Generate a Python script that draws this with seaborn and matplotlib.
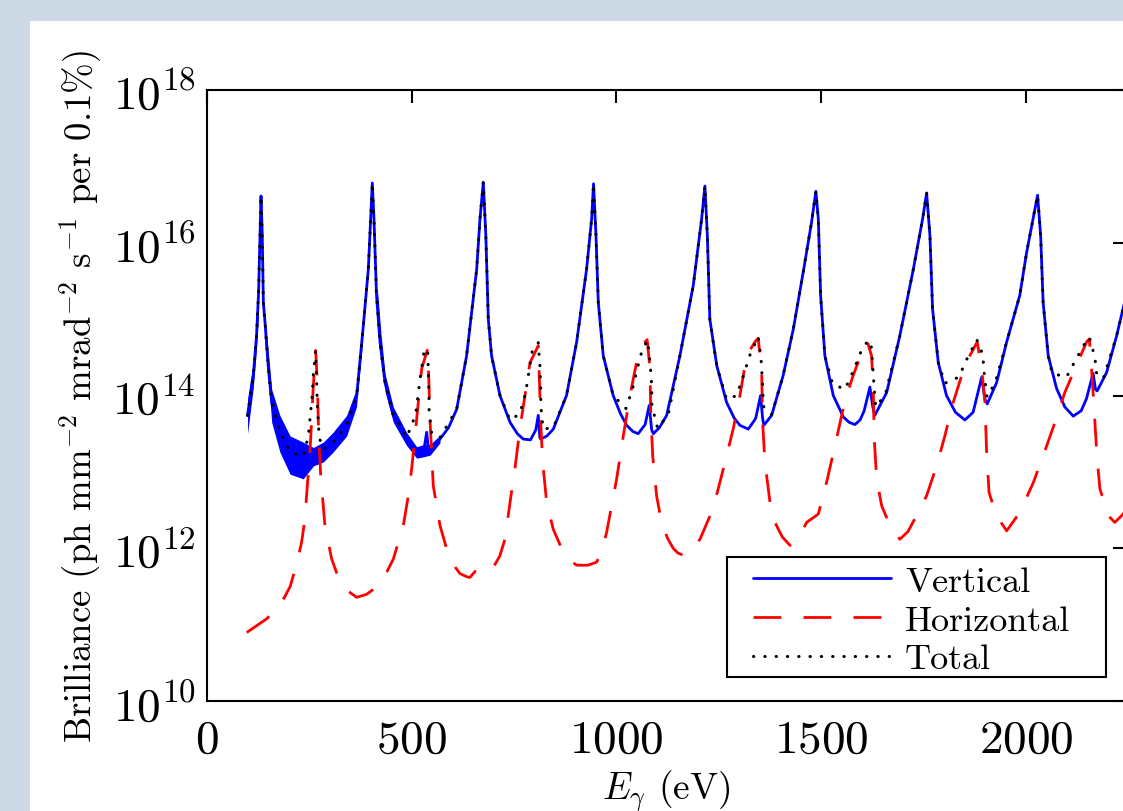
import numpy as np
import matplotlib
matplotlib.use("Agg")
import matplotlib.pyplot as plt
import seaborn as sns
from matplotlib.patches import Rectangle
from matplotlib.ticker import FixedLocator, NullLocator, LogFormatterMathtext

# ---------------- data ----------------
# photon energy (eV) and log10 of brilliance
vertical_E = [99, 113, 121, 126, 129.4, 131.9, 135, 137.6, 143, 150, 158, 178, 203, 235, 255, 263, 268,
              284, 308.5, 341, 365.6, 381.7, 394, 399.7, 403.7, 407.8, 414, 422.5, 434.7, 455, 487.6, 512,
              530, 536.5, 541, 544.6, 569, 590, 609.8, 634, 658.6, 666.7, 674.8, 681, 687, 695, 715.5, 740,
              758, 772.4, 790, 803, 809, 813, 815, 830, 845.7, 878, 902.8, 927, 939.4, 944, 950, 955.6, 967.8,
              992, 1010, 1025, 1040, 1053, 1070, 1080, 1086, 1090, 1105, 1122.6, 1155, 1187.6, 1208, 1216,
              1222, 1228, 1245, 1269, 1288, 1301.6, 1322, 1340, 1352, 1357, 1360, 1379, 1407, 1432, 1456,
              1476.6, 1487, 1493, 1498.6, 1509, 1529.5, 1554, 1568, 1582.4, 1595, 1605, 1619, 1626, 1631,
              1660, 1692, 1725, 1747.7, 1757.5, 1765.6, 1772, 1786, 1806, 1828, 1851, 1871, 1892, 1900,
              1905.6, 1928.5, 1953, 1985, 2001.7, 2028.5, 2036, 2042, 2054.5, 2075, 2095, 2115.6, 2135,
              2148, 2164, 2170, 2174, 2197, 2221.5, 2240]
vertical_log10 = [13.74, 14.26, 14.78, 15.35, 16.09, 16.61, 16.09, 15.22, 14.87, 14.35, 13.91, 13.52, 13.26,
                  13.17, 13.18, 13.28, 13.20, 13.26, 13.39, 13.61, 14.00, 14.91, 15.65, 16.31, 16.78, 16.31,
                  15.31, 14.70, 14.17, 13.74, 13.43, 13.26, 13.30, 13.52, 13.28, 13.30, 13.43, 13.58, 13.82,
                  14.52, 15.65, 16.31, 16.79, 16.09, 15.00, 14.52, 14.00, 13.65, 13.50, 13.43, 13.42, 13.55,
                  13.74, 13.45, 13.43, 13.47, 13.56, 14.00, 14.70, 15.65, 16.31, 16.77, 16.09, 15.22, 14.52,
                  14.00, 13.76, 13.61, 13.53, 13.50, 13.62, 13.87, 13.55, 13.50, 13.58, 13.74, 14.52, 15.44,
                  16.31, 16.74, 16.09, 15.00, 14.39, 13.91, 13.70, 13.61, 13.56, 13.70, 14.00, 13.70, 13.61,
                  13.74, 14.26, 14.87, 15.61, 16.27, 16.67, 16.31, 15.31, 14.52, 14.00, 13.72, 13.65, 13.62,
                  13.68, 13.80, 14.11, 13.85, 13.74, 14.04, 14.78, 15.65, 16.31, 16.65, 16.09, 15.13, 14.43,
                  14.00, 13.78, 13.68, 13.78, 14.24, 13.95, 13.89, 14.17, 14.70, 15.31, 15.87, 16.62, 16.09,
                  15.22, 14.52, 14.09, 13.85, 13.73, 13.80, 13.96, 14.29, 14.08, 14.06, 14.30, 14.78, 15.20]

# spread of the rapidly oscillating vertical signal at low energy (three stretches)
band_E = [[99, 106, 113, 121, 125],
          [140, 150, 158, 178, 203, 235, 260, 284, 308, 341, 365, 380],
          [416, 425, 435, 455, 487, 512, 530, 545, 569]]
band_lo = [[13.50, 13.80, 14.10, 14.62, 15.00],
           [14.75, 14.20, 13.65, 13.26, 12.97, 12.91, 13.08, 13.13, 13.26, 13.47, 13.85, 14.70],
           [15.20, 14.50, 14.05, 13.65, 13.35, 13.18, 13.20, 13.22, 13.38]]
band_hi = [[13.95, 14.20, 14.42, 14.92, 15.40],
           [15.10, 14.55, 14.08, 13.74, 13.47, 13.39, 13.32, 13.39, 13.52, 13.74, 14.09, 15.00],
           [15.40, 14.80, 14.28, 13.85, 13.52, 13.33, 13.36, 13.36, 13.48]]

horizontal_E = [97, 146, 178, 203, 219, 231, 239, 245, 251.5, 255.6, 259.7, 265.4, 269.4, 272.8, 277.7, 288,
                304.5, 318, 333, 350, 365.6, 390, 405, 422.5, 440, 455, 479.5, 491.6, 499.8, 508, 516, 524.3,
                539, 541.4, 544.6, 552.6, 569, 585, 600, 617.8, 634, 642, 655, 665, 680, 699, 715, 727.7, 740,
                752, 764, 776.6, 788.8, 809, 811.5, 815, 819.8, 829.5, 845.7, 870, 885, 902.8, 930, 951.6,
                965, 976, 1000.5, 1016.6, 1033, 1049, 1061.5, 1075, 1082, 1083.5, 1088.5, 1098, 1110, 1125,
                1138.7, 1150, 1163, 1180, 1190, 1204, 1236, 1261, 1285, 1301.6, 1318, 1338, 1346, 1354.5,
                1357, 1362.6, 1375, 1387, 1405, 1423.7, 1445, 1464.5, 1485, 1493, 1513, 1533.6, 1550, 1562,
                1578, 1598.8, 1613, 1623, 1627, 1629.6, 1635.5, 1647.6, 1668, 1692, 1712, 1733, 1757.5, 1782,
                1802, 1822.5, 1843, 1863, 1881, 1892, 1900, 1904, 1910, 1928, 1953, 1985, 2018, 2042, 2071,
                2095, 2120, 2148, 2155, 2158, 2163, 2168.5, 2174, 2180.7, 2201, 2217, 2234, 2245]
horizontal_log10 = [10.90, 11.08, 11.25, 11.50, 11.80, 12.08, 12.38, 12.82, 13.26, 13.69, 14.13, 14.59, 14.17,
                    13.47, 12.95, 12.30, 11.86, 11.66, 11.51, 11.42, 11.36, 11.40, 11.46, 11.56, 11.70, 11.86,
                    12.30, 12.69, 13.04, 13.47, 13.91, 14.35, 14.61, 14.26, 13.69, 12.82, 12.30, 12.00, 11.80,
                    11.67, 11.63, 11.62, 11.70, 11.66, 11.70, 11.75, 11.90, 12.12, 12.60, 13.04, 13.56, 14.00,
                    14.43, 14.65, 14.26, 13.65, 13.13, 12.60, 12.25, 11.95, 11.85, 11.78, 11.78, 11.82, 11.98,
                    12.21, 12.91, 13.47, 14.00, 14.43, 14.65, 14.73, 14.35, 13.82, 13.21, 12.69, 12.34, 12.13,
                    12.00, 11.94, 11.91, 11.95, 12.02, 12.12, 12.52, 13.04, 13.56, 14.00, 14.52, 14.70, 14.75,
                    14.35, 13.65, 13.13, 12.60, 12.34, 12.15, 12.04, 12.14, 12.34, 12.42, 12.45, 12.86, 13.34,
                    13.74, 14.00, 14.26, 14.56, 14.70, 14.52, 14.13, 13.43, 12.91, 12.56, 12.30, 12.12, 12.22,
                    12.43, 12.69, 13.08, 13.47, 13.91, 14.26, 14.52, 14.70, 14.35, 13.91, 13.26, 12.73, 12.43,
                    12.23, 12.47, 12.86, 13.21, 13.65, 14.04, 14.35, 14.70, 14.74, 14.52, 14.13, 13.65, 13.17,
                    12.78, 12.43, 12.34, 12.43, 12.50]

total_E = [99, 113, 121, 126, 129.4, 131.9, 135, 137.6, 143, 150, 158, 178, 203, 235,
           247.5, 257, 259.7, 265.4, 269.4, 274, 284,
           308.5, 341, 365.6, 381.7, 394, 399.7, 403.7, 407.8, 414, 422.5, 434.7, 455, 487.6,
           509.6, 516, 522.6, 530, 539, 542, 542.5, 548.7,
           569, 609.8, 634, 658.6, 666.7, 674.8, 681, 687, 695, 715.5, 740,
           764, 778, 786, 794, 809, 813, 815, 815.3, 821, 845.7,
           878, 902.8, 927, 939.4, 944, 950, 955.6, 967.8, 992,
           1023, 1039.5, 1051.7, 1063, 1076, 1082.6, 1086, 1086.5, 1100.5, 1126.6,
           1155, 1187.6, 1208, 1216, 1222, 1228, 1245, 1269,
           1293.5, 1310, 1326, 1346, 1353, 1356, 1358.6, 1360, 1379,
           1407, 1432, 1456, 1476.6, 1487, 1493, 1498.6, 1509, 1528,
           1558, 1580, 1599, 1615, 1621.5, 1625.6, 1629, 1633, 1656.5,
           1692, 1725, 1747.7, 1757.5, 1765.6, 1772, 1786, 1802,
           1836, 1857, 1880, 1894.5, 1898.6, 1905, 1925,
           1953, 1985, 2001.7, 2028.5, 2036, 2042, 2054.5, 2064,
           2099, 2124, 2150, 2155, 2168.5, 2172, 2189, 2221.5, 2240]
total_log10 = [13.74, 14.26, 14.78, 15.35, 16.09, 16.61, 16.09, 15.22, 14.87, 14.35, 13.91, 13.52, 13.26, 13.20,
               13.47, 14.00, 14.28, 14.58, 13.89, 13.45, 13.30,
               13.39, 13.61, 14.00, 14.91, 15.65, 16.31, 16.78, 16.31, 15.31, 14.70, 14.17, 13.74, 13.45,
               13.75, 14.03, 14.30, 14.57, 14.61, 14.05, 13.80, 13.50,
               13.45, 13.82, 14.52, 15.65, 16.31, 16.79, 16.09, 15.00, 14.52, 14.00, 13.68,
               13.76, 14.03, 14.30, 14.57, 14.69, 14.39, 14.12, 13.86, 13.56, 13.58,
               14.00, 14.70, 15.65, 16.31, 16.77, 16.09, 15.22, 14.52, 14.00,
               13.83, 14.09, 14.37, 14.60, 14.72, 14.40, 14.13, 13.87, 13.57, 13.75,
               14.52, 15.44, 16.31, 16.74, 16.09, 15.00, 14.39, 13.95,
               14.00, 14.26, 14.53, 14.77, 14.49, 14.22, 13.92, 13.85, 13.75,
               14.26, 14.87, 15.61, 16.27, 16.67, 16.31, 15.31, 14.52, 14.15,
               14.08, 14.34, 14.60, 14.72, 14.69, 14.41, 14.13, 13.85, 14.01,
               14.78, 15.65, 16.31, 16.65, 16.09, 15.13, 14.43, 14.16,
               14.24, 14.49, 14.73, 14.54, 14.26, 13.98, 14.17,
               14.70, 15.31, 15.87, 16.62, 16.09, 15.22, 14.52, 14.29,
               14.24, 14.49, 14.74, 14.76, 14.50, 14.30, 14.22, 14.78, 15.20]

series_labels = ["Vertical", "Horizontal", "Total"]
x_ticks = [0, 500, 1000, 1500, 2000]
y_tick_exponents = [10, 12, 14, 16, 18]

# ---------------- style ----------------
sns.set_theme(style="white")
plt.rcParams.update({
    "font.family": ["cmr10", "DejaVu Serif"],
    "mathtext.fontset": "cm",
    "axes.formatter.use_mathtext": True,
    "axes.unicode_minus": False,
    "text.color": "black",
    "axes.labelcolor": "black",
    "xtick.color": "black",
    "ytick.color": "black",
})

W, H = 1123, 812
fig = plt.figure(figsize=(W / 100, H / 100), dpi=100, facecolor="#cddae5")
fig.patches.append(Rectangle((30 / W, 0), 1, 1 - 22 / H, transform=fig.transFigure,
                             facecolor="white", edgecolor="none", zorder=-5))

left, right, top, bottom = 207, 1125, 90.7, 702.3
ax = fig.add_axes([left / W, 1 - bottom / H, (right - left) / W, (bottom - top) / H])
ax.set_zorder(1)
ax.set_facecolor("white")
ax.set_yscale("log")

blue, red = "#0000ff", "#ff0000"

for e, lo, hi in zip(band_E, band_lo, band_hi):
    ax.fill_between(e, 10.0 ** np.array(lo), 10.0 ** np.array(hi), color=blue, lw=0, zorder=2)

sns.lineplot(x=vertical_E, y=10.0 ** np.array(vertical_log10), ax=ax, color=blue, lw=2.0,
             sort=False, estimator=None, label=series_labels[0], zorder=3)
sns.lineplot(x=horizontal_E, y=10.0 ** np.array(horizontal_log10), ax=ax, color=red, lw=2.0,
             sort=False, estimator=None, label=series_labels[1], zorder=4)
ax.lines[-1].set_dashes([10, 8])
sns.lineplot(x=total_E, y=10.0 ** np.array(total_log10), ax=ax, color="black", lw=2.2,
             sort=False, estimator=None, label=series_labels[2], zorder=5)
ax.lines[-1].set_dashes([0.1, 3.6])
ax.lines[-1].set_dash_capstyle("round")

ax.set_xlim(0, 2242)
ax.set_ylim(1e10, 1e18)
ax.xaxis.set_major_locator(FixedLocator(x_ticks))
ax.yaxis.set_major_locator(FixedLocator([10.0 ** k for k in y_tick_exponents]))
ax.yaxis.set_major_formatter(LogFormatterMathtext())
ax.yaxis.set_minor_locator(NullLocator())
ax.xaxis.set_minor_locator(NullLocator())

ax.tick_params(axis="both", which="major", direction="in", length=9, width=1.5,
               top=True, right=True, labelsize=34, colors="black")
ax.tick_params(axis="x", pad=13)
ax.tick_params(axis="y", pad=8)
for s in ax.spines.values():
    s.set_visible(True)
    s.set_color("black")
    s.set_linewidth(1.5)

ax.set_xlabel(r"$E_\gamma$ (eV)", fontsize=27, labelpad=5)
ax.set_ylabel(r"Brilliance (ph mm$^{-2}$ mrad$^{-2}$ s$^{-1}$ per 0.1%)", fontsize=26.5, labelpad=6)

# legend box (frame drawn explicitly to match the reference proportions)
ax.add_patch(Rectangle((0.5664, 0.0392), 0.9793 - 0.5664, 0.2354 - 0.0392, transform=ax.transAxes,
                       facecolor="white", edgecolor="black", lw=1.5, zorder=10))
leg = ax.legend(loc="upper left", bbox_to_anchor=(0.5948, 0.222), borderaxespad=0, borderpad=0,
                fontsize=26, frameon=False, handlelength=3.82, handletextpad=0.39, labelspacing=0.18)
leg.set_zorder(11)

fig.savefig("out.png", dpi=100, facecolor=fig.get_facecolor())
